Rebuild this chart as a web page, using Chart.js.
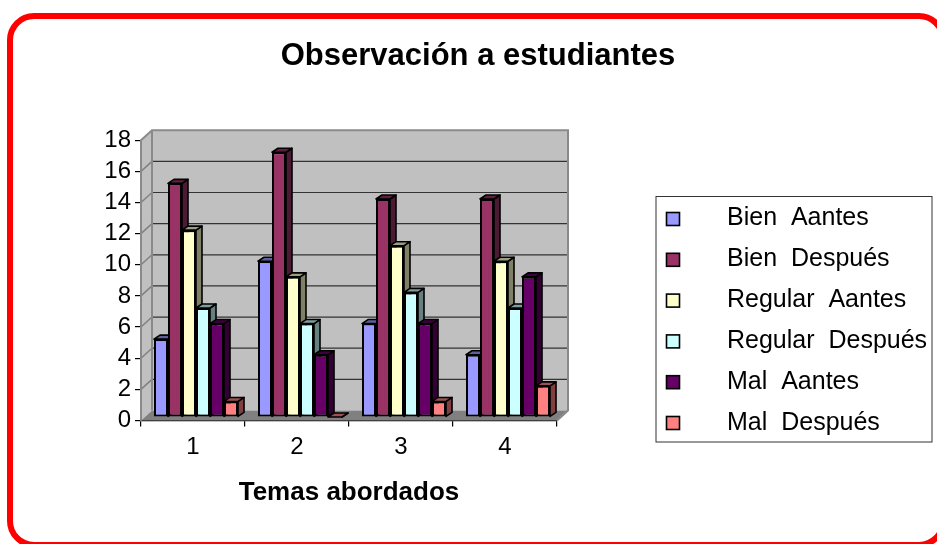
<!DOCTYPE html>
<html><head><meta charset="utf-8">
<style>html,body{margin:0;padding:0;background:#fff;overflow:hidden}
#wrap{position:relative;width:937px;height:544px;overflow:hidden}
#frame{position:absolute;left:7px;top:13px;width:939px;height:535px;border:6px solid #ff0000;border-radius:27px;box-sizing:border-box}
canvas{position:absolute;left:0;top:0}</style>
<script src="https://cdn.jsdelivr.net/npm/chart.js@4"></script></head>
<body><div id="wrap"><div id="frame"></div><canvas id="c" width="937" height="544"></canvas></div>
<script>
const categories = ['1','2','3','4'];
const seriesNames = ['Bien  Aantes','Bien  Después','Regular  Aantes','Regular  Después','Mal  Aantes','Mal  Después'];
const bienAntes = [5,10,6,4];
const bienDespues = [15,17,14,14];
const regularAntes = [12,9,11,10];
const regularDespues = [7,6,8,7];
const malAntes = [6,4,6,9];
const malDespues = [1,0,1,2];
const seriesValues = [bienAntes,bienDespues,regularAntes,regularDespues,malAntes,malDespues];
const seriesColors = ['#9999ff','#993366','#ffffcc','#ccffff','#660066','#ff8080'];
const titleText = 'Observación a estudiantes';
const xTitle = 'Temas abordados';
const FONT = '"Liberation Sans", Arial, sans-serif';

function shade(hex,f){
  const n=parseInt(hex.slice(1),16);
  return 'rgb('+[(n>>16)&255,(n>>8)&255,n&255].map(v=>Math.round(v*f)).join(',')+')';
}
const WALL={dx:11,dy:-10}, SHIFT={x:3,y:-3.5}, DEPTH={x:6,y:-4};

function poly(ctx,pts,fill,stroke,lw){
  ctx.beginPath();pts.forEach((p,i)=>i?ctx.lineTo(p[0],p[1]):ctx.moveTo(p[0],p[1]));ctx.closePath();
  if(fill){ctx.fillStyle=fill;ctx.fill();}
  if(stroke){ctx.strokeStyle=stroke;ctx.lineWidth=lw;ctx.stroke();}
}
const wallPlugin={id:'wall',
  afterLayout(chart){
    const t=chart.titleBlock; t.left=0; t.right=956; t.width=956;
  },
  beforeDatasetsDraw(chart){
    const {ctx,chartArea:a,scales:{y}}=chart;
    const l=a.left,r=a.right,t=a.top,b=a.bottom,dx=WALL.dx,dy=WALL.dy;
    ctx.save();
    poly(ctx,[[l+dx,t+dy],[r+dx,t+dy],[r+dx,b+dy],[l+dx,b+dy]],'#c0c0c0');
    poly(ctx,[[l,t],[l+dx,t+dy],[l+dx,b+dy],[l,b]],'#c0c0c0');
    poly(ctx,[[l,b],[l+dx,b+dy],[r+dx,b+dy],[r,b]],'#808080');
    y.ticks.forEach((tk,i)=>{
      if(tk.value===0||tk.value===18) return;
      const p=y.getPixelForTick(i);
      ctx.strokeStyle='#333';ctx.lineWidth=1.2;
      ctx.beginPath();ctx.moveTo(l+dx,p+dy);ctx.lineTo(r+dx,p+dy);ctx.stroke();
      ctx.strokeStyle='#808080';ctx.lineWidth=1.5;
      ctx.beginPath();ctx.moveTo(l,p);ctx.lineTo(l+dx,p+dy);ctx.stroke();
    });
    ctx.strokeStyle='#8a8a8a';ctx.lineWidth=2;
    ctx.beginPath();ctx.moveTo(l,b);ctx.lineTo(l,t);ctx.lineTo(l+dx,t+dy);ctx.lineTo(r+dx,t+dy);ctx.lineTo(r+dx,b+dy);ctx.lineTo(r,b);ctx.stroke();
    ctx.beginPath();ctx.moveTo(l+dx,t+dy);ctx.lineTo(l+dx,b+dy);ctx.stroke();
    ctx.restore();
  },
  beforeDatasetDraw(){ return false; },
  afterDatasetsDraw(chart){
    const ctx=chart.ctx, dx=DEPTH.x, dy=DEPTH.y;
    chart.data.datasets.forEach((d,i)=>{
      const meta=chart.getDatasetMeta(i), col=seriesColors[i];
      ctx.save();
      ctx.translate(SHIFT.x,SHIFT.y);
      ctx.lineJoin='round';
      meta.data.forEach(el=>{
        const L=el.x-el.width/2,R=el.x+el.width/2,T=el.y,B=el.base;
        poly(ctx,[[R,T],[R+dx,T+dy],[R+dx,B+dy],[R,B]],shade(col,.5),'#000',1.6);
        poly(ctx,[[L,T],[L+dx,T+dy],[R+dx,T+dy],[R,T]],shade(col,.62),'#000',1.6);
      });
      meta.controller.draw();
      ctx.restore();
    });
  },
  afterDraw(chart){
    const ctx=chart.ctx;
    const bx=656,by=196.5,bw=276,bh=245.5;
    ctx.save();
    ctx.strokeStyle='#333';ctx.lineWidth=1;ctx.strokeRect(bx,by,bw,bh);
    ctx.font='25px '+FONT;ctx.textBaseline='middle';ctx.textAlign='left';
    chart.data.datasets.forEach((d,i)=>{
      const sy=219+40.8*i;
      ctx.fillStyle=d.backgroundColor;ctx.strokeStyle='#000';ctx.lineWidth=1.6;
      ctx.fillRect(666.5,sy-6.5,13,13);ctx.strokeRect(666.5,sy-6.5,13,13);
      ctx.fillStyle='#000';ctx.fillText(d.label,727,218+41*i);
    });
    ctx.restore();
  }
};
new Chart(document.getElementById('c'),{
  type:'bar',
  data:{labels:categories,datasets:seriesNames.map((n,i)=>({
    label:n,data:seriesValues[i],backgroundColor:seriesColors[i],borderColor:'#000',borderWidth:2,
    borderSkipped:false,categoryPercentage:.808,barPercentage:1,clip:false}))},
  options:{
    responsive:false,animation:false,
    layout:{padding:{left:0,right:380,top:0,bottom:36}},
    plugins:{
      legend:{display:false},tooltip:{enabled:false},
      title:{display:true,text:titleText,color:'#000',font:{family:FONT,size:31,weight:'bold'},padding:{top:38,bottom:65}}
    },
    scales:{
      x:{grid:{drawOnChartArea:false,color:'#000',tickLength:6,lineWidth:1.2},border:{color:'#000',width:1.2},
        ticks:{color:'#000',font:{family:FONT,size:24},padding:6.5,maxRotation:0},
        title:{display:true,text:xTitle,color:'#000',font:{family:FONT,size:26,weight:'bold'},padding:{top:8.5,bottom:0}}},
      y:{min:0,max:18,grid:{drawOnChartArea:false,color:'#000',tickLength:6,lineWidth:1.2},border:{color:'#808080',width:1.2},
        afterFit(s){s.width=141;},
        ticks:{stepSize:2,autoSkip:false,color:'#000',font:{family:FONT,size:24},padding:4}}
    }
  },
  plugins:[wallPlugin]
});
</script></body></html>
